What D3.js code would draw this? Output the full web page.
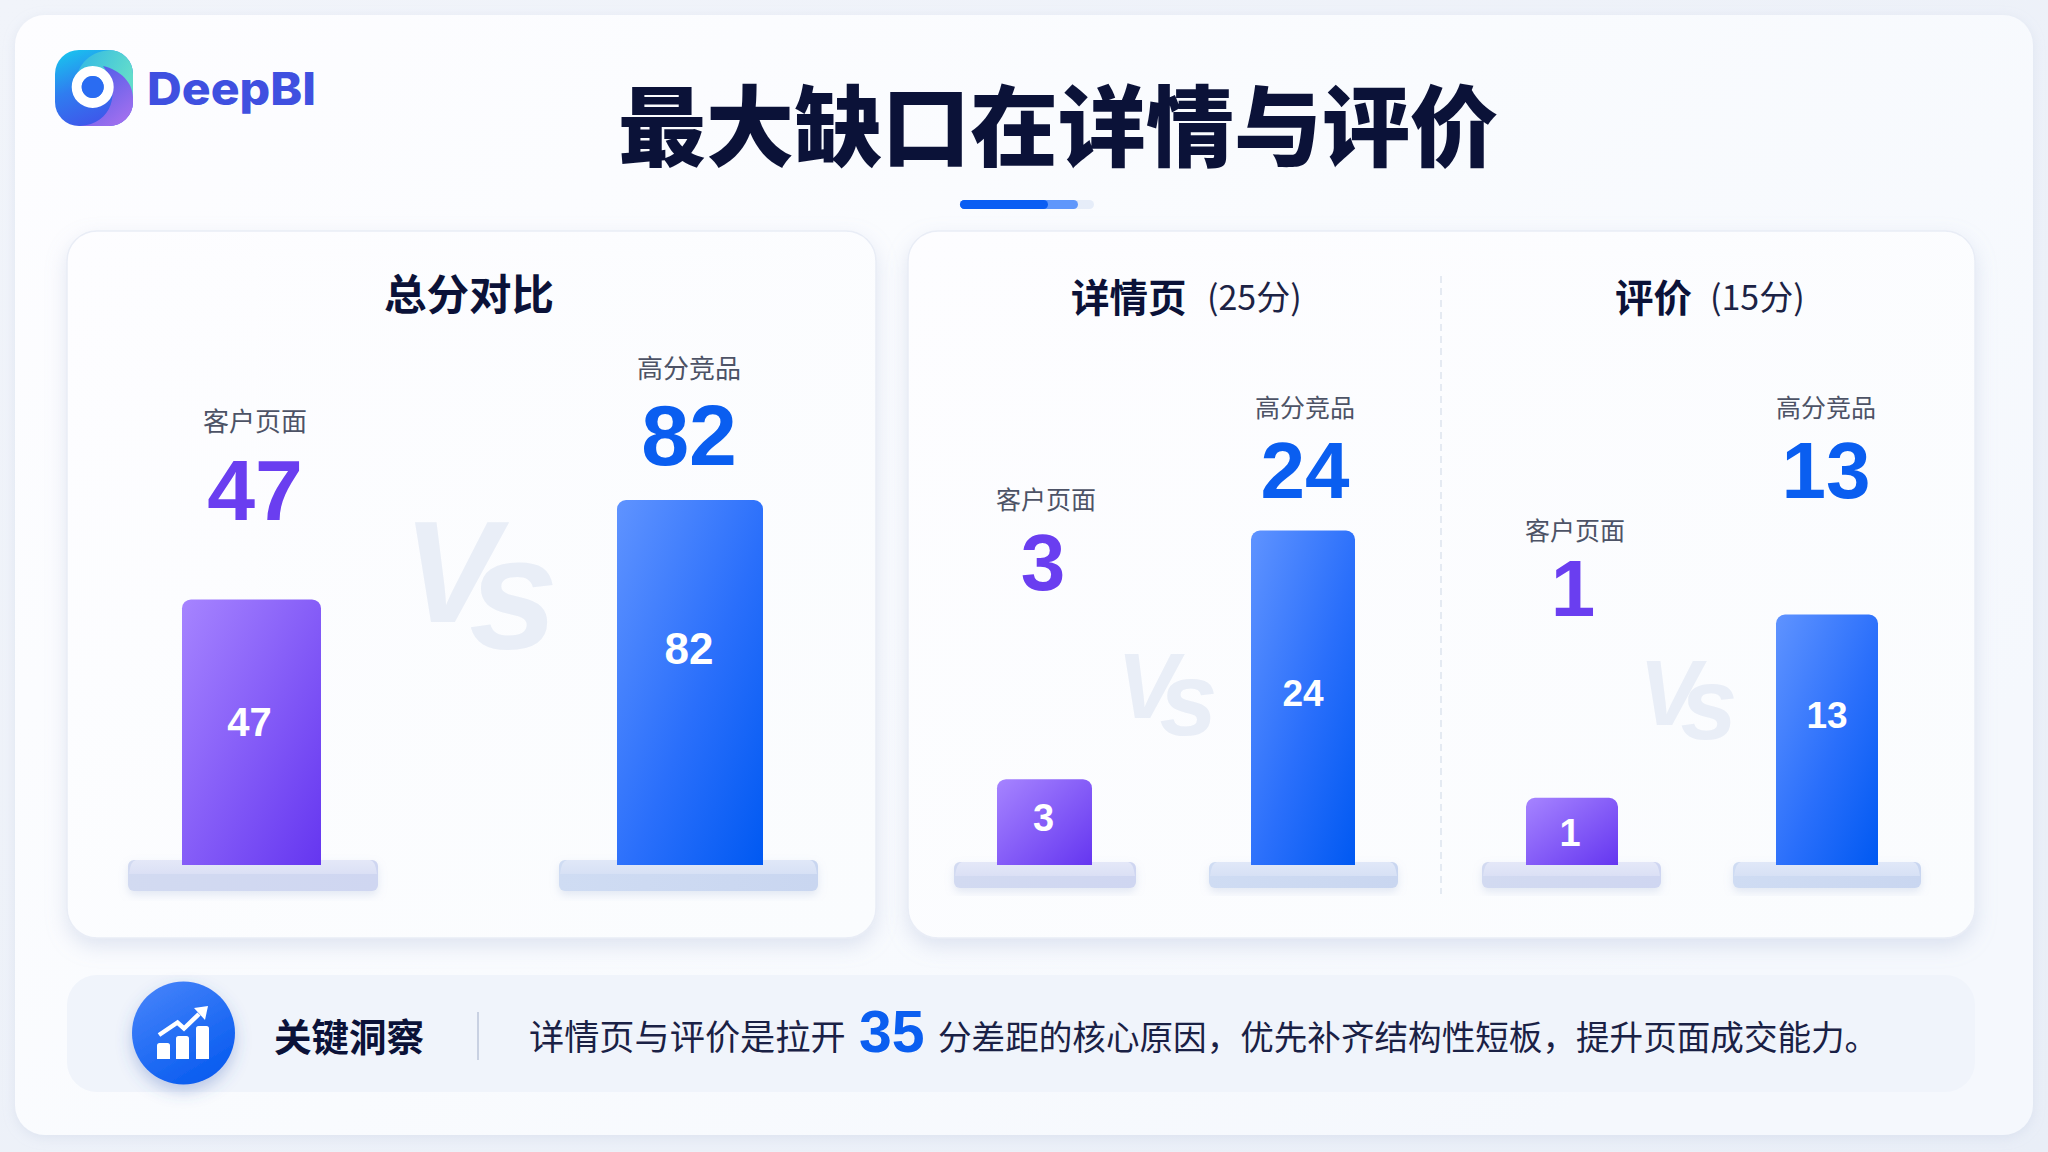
<!DOCTYPE html>
<html><head><meta charset="utf-8">
<script src="https://cdn.jsdelivr.net/npm/d3@7/dist/d3.min.js"></script>
<style>html,body{margin:0;padding:0;background:#eef2f9;overflow:hidden}svg{display:block}</style>
</head><body><svg id="c" width="2048" height="1152"></svg>
<script>
// ---- data ----
const categories = ["客户页面", "高分竞品"];
const totalValues = [47, 82];
const detailValues = [3, 24];
const reviewValues = [1, 13];
const panelTitles = ["总分对比", "详情页", "评价"];
const panelNotes = ["", "(25分)", "(15分)"];
const chartTitle = "最大缺口在详情与评价";
const insightLabel = "关键洞察";
const insightBefore = "详情页与评价是拉开";
const insightValue = "35";
const insightAfter = "分差距的核心原因，优先补齐结构性短板，提升页面成交能力。";

// ---- layout (not data) ----
const CJK = "'Noto Sans CJK SC','Noto Sans',sans-serif";
const NUM = "'Liberation Sans',Arial,sans-serif";
const BASE_Y = 865;
const layouts = [
 {values:totalValues, title:panelTitles[0], note:panelNotes[0], centers:[251.5,690], barW:[139,146], top:500, base:-46.5,
  ped:[[128,378,860,891],[559,818,860,891]], labelX:[255,689], labelY:[422,369], bigX:[255,689], bigB:[520,465], bigF:86, labF:26,
  inX:[249.5,689], inY:[722,648], inF:[40,44], titleX:[469], titleY:295, titleF:42.5,
  vs:{x:403,vb:622,vf:144,sb:648,sf:160,dx:-30}},
 {values:detailValues, title:panelTitles[1], note:panelNotes[1], centers:[1044.5,1303], barW:[95,104], top:530.5, base:-4.25,
  ped:[[954,1136,862,888],[1209,1398,862,888]], labelX:[1046,1305], labelY:[500,408], bigX:[1043,1305], bigB:[590,498], bigF:80, labF:25,
  inX:[1043.5,1303], inY:[817.5,693], inF:[38,37], titleX:[1071,1207], titleY:298, titleF:38.5,
  vs:{x:1117,vb:718,vf:92,sb:735,sf:104,dx:-19}},
 {values:reviewValues, title:panelTitles[2], note:panelNotes[2], centers:[1572,1827], barW:[92,102], top:614.5, base:-3.4,
  ped:[[1482,1661,862,888],[1733,1921,862,888]], labelX:[1575,1826], labelY:[531,408], bigX:[1573,1826], bigB:[616,498], bigF:80, labF:25,
  inX:[1570,1827], inY:[832,715], inF:[38,37], titleX:[1615,1710], titleY:298, titleF:38.5,
  vs:{x:1639,vb:725,vf:92,sb:739,sf:102,dx:-20}}
];

const svg = d3.select("#c");
const defs = svg.append("defs");
function lin(id,x1,y1,x2,y2,stops){
  const g=defs.append("linearGradient").attr("id",id).attr("x1",x1).attr("y1",y1).attr("x2",x2).attr("y2",y2);
  stops.forEach(s=>g.append("stop").attr("offset",s[0]).attr("stop-color",s[1]));
}
function shadow(id,dy,blur,color,op){
  const f=defs.append("filter").attr("id",id).attr("x","-20%").attr("y","-20%").attr("width","140%").attr("height","150%");
  f.append("feDropShadow").attr("dx",0).attr("dy",dy).attr("stdDeviation",blur).attr("flood-color",color).attr("flood-opacity",op);
}
lin("pageBg",0,0,1,1,[[0,"#f1f4fa"],[1,"#e9eef7"]]);
lin("outer",0,0,1,.6,[[0,"#fdfdff"],[.55,"#f9fbfe"],[1,"#f5f8fd"]]);
lin("card",0,0,1,1,[[0,"#fdfdff"],[1,"#fafcfe"]]);
lin("purple",0,0,1,1,[[0,"#a684ff"],[1,"#6536f0"]]);
lin("blue",0,0,1,1,[[0,"#5f93ff"],[.55,"#2a6ffb"],[1,"#0059f2"]]);
lin("circleG",0,0,.6,1,[[0,"#4a86fb"],[1,"#0a5df0"]]);
lin("logoBase",.1,0,.5,1,[[0,"#18c6ee"],[.5,"#2f7df0"],[1,"#3f55ea"]]);
lin("logoTeal",0,0,1,.4,[[0,"#2fb6e6"],[1,"#62dccb"]]);
lin("logoPurple",0,0,.7,1,[[0,"#3f5ae8"],[1,"#a06fee"]]);
lin("pedTop0",0,0,0,1,[[0,"#e4e8f8"],[1,"#dbe0f5"]]);
lin("pedTop1",0,0,0,1,[[0,"#e0e8f8"],[1,"#d7e1f5"]]);
lin("pedFront0",0,0,1,0,[[0,"#d2daf1"],[1,"#cfd6f1"]]);
lin("pedFront1",0,0,1,0,[[0,"#cfdcf3"],[1,"#c9d6f0"]]);
shadow("sCard",8,10,"#a5b3d4",.32);
shadow("sPed",4,4,"#9fb0d4",.28);
shadow("sCircle",7,8,"#3a63b8",.32);
shadow("sOuter",3,6,"#b6c2da",.28);

// page + panels
svg.append("rect").attr("width",2048).attr("height",1152).attr("fill","url(#pageBg)");
svg.append("rect").attr("x",15).attr("y",15).attr("width",2018).attr("height",1120).attr("rx",30).attr("fill","url(#outer)").attr("filter","url(#sOuter)");
[[67,231,809,707],[908,231,1067,707]].forEach(r=>{
  svg.append("rect").attr("x",r[0]).attr("y",r[1]).attr("width",r[2]).attr("height",r[3]).attr("rx",30)
    .attr("fill","url(#card)").attr("stroke","#e9edf6").attr("stroke-width",1.5).attr("filter","url(#sCard)");
});

// logo
const logo = svg.append("g");
defs.append("clipPath").attr("id","logoClip").append("rect").attr("x",55).attr("y",50).attr("width",78).attr("height",76).attr("rx",24);
const lc = logo.append("g").attr("clip-path","url(#logoClip)");
lc.append("rect").attr("x",55).attr("y",50).attr("width",78).attr("height",76).attr("fill","url(#logoBase)");
lc.append("path").attr("d","M76 84C76 64 92 50 112 50L133 50L133 98C124 78 100 62 76 84Z").attr("fill","url(#logoTeal)");
lc.append("path").attr("d","M103 66C120 70 133 82 133 98L133 126L80 126C112 124 122 92 103 66Z").attr("fill","url(#logoPurple)");
logo.append("circle").attr("cx",92.7).attr("cy",87).attr("r",16).attr("fill","none").attr("stroke","#ffffff").attr("stroke-width",10);
logo.append("circle").attr("cx",92.7).attr("cy",87).attr("r",11).attr("fill","#2a6cf2");
svg.append("text").attr("x",147).attr("y",105).attr("font-family","Inter,sans-serif").attr("font-weight",800).attr("font-size",45)
  .attr("textLength",169).attr("lengthAdjust","spacingAndGlyphs").attr("fill","#3f50e0").text("DeepBI");

// title + underline
svg.append("text").attr("x",1058).attr("y",159).attr("text-anchor","middle").attr("font-family",CJK).attr("font-weight",900)
  .attr("font-size",88).attr("fill","#0b1238").text(chartTitle);
svg.append("rect").attr("x",960).attr("y",200).attr("width",134).attr("height",9).attr("rx",4.5).attr("fill","#e6edf9");
svg.append("rect").attr("x",960).attr("y",200).attr("width",118).attr("height",9).attr("rx",4.5).attr("fill","#5f97fb");
svg.append("rect").attr("x",960).attr("y",200).attr("width",88).attr("height",9).attr("rx",4.5).attr("fill","#0a5ef3");

// divider
svg.append("line").attr("x1",1441).attr("x2",1441).attr("y1",276).attr("y2",894).attr("stroke","#dde3ee").attr("stroke-width",1.5).attr("stroke-dasharray","7 5");

function topRounded(x,y,w,h,r){
  const p=d3.path();
  p.moveTo(x,y+h);p.lineTo(x,y+r);p.arcTo(x,y,x+r,y,r);p.lineTo(x+w-r,y);p.arcTo(x+w,y,x+w,y+r,r);p.lineTo(x+w,y+h);p.closePath();
  return p.toString();
}

layouts.forEach(L=>{
  const g = svg.append("g");
  // Vs watermark: one text, the s dropped below the V
  const wm=g.append("text").attr("x",L.vs.x).attr("y",L.vs.vb).attr("font-family",NUM).attr("font-style","italic").attr("font-weight",700)
     .attr("fill","#e9eef7");
  wm.append("tspan").attr("font-size",L.vs.vf).text("V");
  wm.append("tspan").attr("font-size",L.vs.sf).attr("dx",L.vs.dx).attr("dy",L.vs.sb-L.vs.vb).text("s");

  // panel title
  const ta = L.note ? "start":"middle";
  g.append("text").attr("x",L.titleX[0]).attr("y",L.titleY+L.titleF*.36).attr("text-anchor",ta).attr("font-family",CJK).attr("font-weight",700)
    .attr("font-size",L.titleF).attr("fill","#0b1238").text(L.title);
  if(L.note) g.append("text").attr("x",L.titleX[1]).attr("y",L.titleY+12).attr("font-family",CJK).attr("font-weight",400)
    .attr("font-size",34).attr("fill","#1c2345").text(L.note);

  const x = d3.scalePoint().domain(categories).range(L.centers);
  const y = d3.scaleLinear().domain([L.base,d3.max(L.values)]).range([BASE_Y,L.top]);

  categories.forEach((c,i)=>{
    const v=L.values[i], cx=x(c), w=L.barW[i], P=L.ped[i], color=i?"#0a5ef0":"#6a3ef0";
    // pedestal
    g.append("rect").attr("x",P[0]).attr("y",P[2]).attr("width",P[1]-P[0]).attr("height",P[3]-P[2]).attr("rx",6)
      .attr("fill","url(#pedFront"+i+")").attr("filter","url(#sPed)");
    g.append("path").attr("d",`M${P[0]+8} ${P[2]}L${P[1]-8} ${P[2]}Q${P[1]-3} ${P[2]} ${P[1]-1} ${P[2]+14}L${P[0]+1} ${P[2]+14}Q${P[0]+3} ${P[2]} ${P[0]+8} ${P[2]}Z`)
      .attr("fill","url(#pedTop"+i+")");
    // bar
    g.append("path").attr("d",topRounded(cx-w/2,y(v),w,BASE_Y-y(v),9)).attr("fill",i?"url(#blue)":"url(#purple)");
    // inner label
    g.append("text").attr("x",L.inX[i]).attr("y",L.inY[i]+L.inF[i]*.36).attr("text-anchor","middle").attr("font-family",NUM).attr("font-weight",700)
      .attr("font-size",L.inF[i]).attr("fill","#fff").text(v);
    // category label
    g.append("text").attr("x",L.labelX[i]).attr("y",L.labelY[i]+L.labF*.36).attr("text-anchor","middle").attr("font-family",CJK)
      .attr("font-size",L.labF).attr("fill","#4d5366").text(c);
    // big value
    g.append("text").attr("x",L.bigX[i]).attr("y",L.bigB[i]).attr("text-anchor","middle").attr("font-family",NUM).attr("font-weight",700)
      .attr("font-size",L.bigF).attr("fill",color).text(v);
  });
});

// insight bar
svg.append("rect").attr("x",67).attr("y",975).attr("width",1908).attr("height",117).attr("rx",30).attr("fill","#f0f4fb");
svg.append("circle").attr("cx",183.5).attr("cy",1033).attr("r",51.5).attr("fill","url(#circleG)").attr("filter","url(#sCircle)");
const ic=svg.append("g").attr("fill","#fff");
[[157,1043],[176,1036],[196,1026]].forEach(b=>ic.append("path").attr("d",topRounded(b[0],b[1],13,1059-b[1],2.5)));
svg.append("path").attr("d","M159 1035L177.500 1022.500L184 1028.500L199 1014").attr("fill","none").attr("stroke","#fff").attr("stroke-width",4.5);
svg.append("path").attr("d","M194 1008L208 1006L205 1020Z").attr("fill","#fff");
svg.append("text").attr("x",274).attr("y",1051).attr("font-family",CJK).attr("font-weight",700).attr("font-size",37.5).attr("fill","#0b1238").text(insightLabel);
svg.append("rect").attr("x",477).attr("y",1012).attr("width",2).attr("height",48).attr("fill","#c9d1e2");
svg.append("text").attr("x",529).attr("y",1050).attr("font-family",CJK).attr("font-size",35.2).attr("fill","#1a2145").text(insightBefore);
svg.append("text").attr("x",859).attr("y",1052).attr("font-family",NUM).attr("font-weight",700).attr("font-size",59).attr("fill","#0a5ef0").text(insightValue);
svg.append("text").attr("x",938).attr("y",1050).attr("font-family",CJK).attr("font-size",33.6).attr("fill","#1a2145").text(insightAfter);
</script></body></html>
